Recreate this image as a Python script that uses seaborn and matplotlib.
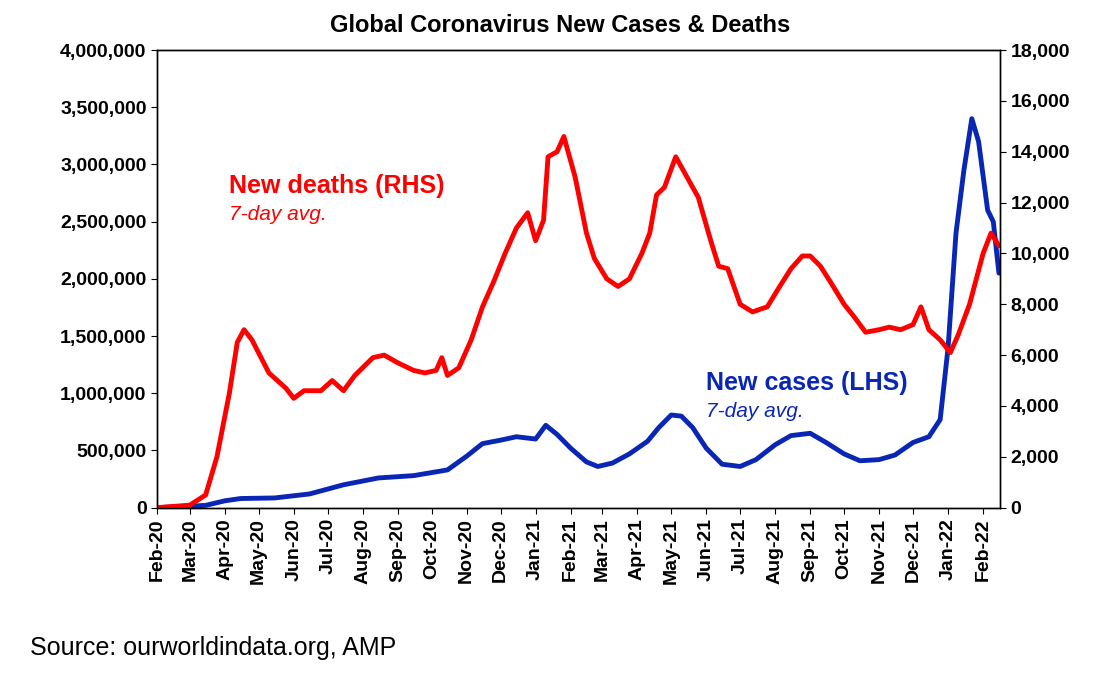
import matplotlib
matplotlib.use("Agg")
import matplotlib.pyplot as plt
import matplotlib.dates as mdates
import matplotlib.ticker as mtick
import seaborn as sns
import pandas as pd

sns.set_style("white")
plt.rcParams['font.family'] = ['Liberation Sans', 'DejaVu Sans']
plt.rcParams['text.color'] = 'black'
plt.rcParams['xtick.color'] = 'black'
plt.rcParams['ytick.color'] = 'black'

death_dates = ["2020-02-01","2020-03-01","2020-03-15","2020-03-25","2020-04-05","2020-04-12","2020-04-18","2020-04-25",
 "2020-05-10","2020-05-25","2020-06-01","2020-06-10","2020-06-25","2020-07-05","2020-07-15","2020-07-25","2020-08-10",
 "2020-08-20","2020-09-01","2020-09-15","2020-09-25","2020-10-05","2020-10-10","2020-10-15","2020-10-25","2020-11-05",
 "2020-11-15","2020-11-25","2020-12-05","2020-12-15","2020-12-25","2021-01-01","2021-01-08","2021-01-12","2021-01-20",
 "2021-01-26","2021-02-05","2021-02-15","2021-02-22","2021-03-05","2021-03-15","2021-03-25","2021-04-05","2021-04-12",
 "2021-04-18","2021-04-25","2021-05-05","2021-05-15","2021-05-25","2021-06-05","2021-06-12","2021-06-20","2021-07-01",
 "2021-07-12","2021-07-25","2021-08-05","2021-08-15","2021-08-25","2021-09-01","2021-09-10","2021-09-20","2021-10-01",
 "2021-10-10","2021-10-20","2021-11-01","2021-11-10","2021-11-20","2021-12-01","2021-12-08","2021-12-15","2021-12-25",
 "2022-01-03","2022-01-10","2022-01-20","2022-02-01","2022-02-08","2022-02-15"]
deaths = [0,100,500,2000,4500,6500,7000,6600,5300,4700,4300,4600,4600,5000,4600,5200,5900,6000,5700,5400,5300,5400,
 5900,5200,5500,6600,7900,8900,10000,11000,11600,10500,11300,13800,14000,14600,13000,10800,9800,9000,8700,9000,10000,
 10800,12300,12600,13800,13000,12200,10500,9500,9400,8000,7700,7900,8700,9400,9900,9900,9500,8800,8000,7500,6900,7000,
 7100,7000,7200,7900,7000,6600,6100,6800,8000,10000,10800,10300]

case_dates = ["2020-02-01","2020-03-15","2020-04-01","2020-04-15","2020-05-15","2020-06-15","2020-07-15","2020-08-15",
 "2020-09-15","2020-10-15","2020-11-01","2020-11-15","2020-12-01","2020-12-15","2021-01-01","2021-01-10","2021-01-20",
 "2021-02-01","2021-02-15","2021-02-25","2021-03-10","2021-03-25","2021-04-10","2021-04-20","2021-05-01","2021-05-10",
 "2021-05-20","2021-06-01","2021-06-15","2021-07-01","2021-07-15","2021-08-01","2021-08-15","2021-09-01","2021-09-15",
 "2021-10-01","2021-10-15","2021-11-01","2021-11-15","2021-12-01","2021-12-15","2021-12-25","2022-01-01","2022-01-08",
 "2022-01-15","2022-01-22","2022-01-28","2022-02-05","2022-02-10","2022-02-15"]
cases = [0,20e3,60e3,80e3,85e3,120e3,200e3,260e3,280e3,330e3,450e3,560e3,590e3,620e3,600e3,720e3,640e3,520e3,400e3,
 360e3,390e3,470e3,580e3,700e3,810e3,800e3,700e3,520e3,380e3,360e3,420e3,550e3,630e3,650e3,570e3,470e3,410e3,420e3,
 460e3,570e3,620e3,770e3,1.4e6,2.4e6,2.95e6,3.4e6,3.2e6,2.6e6,2.5e6,2.05e6]

dfd = pd.DataFrame({"date": pd.to_datetime(death_dates), "v": deaths})
dfc = pd.DataFrame({"date": pd.to_datetime(case_dates), "v": cases})

fig = plt.figure(figsize=(11.02, 6.76), dpi=100)
ax = fig.add_axes([0.1425, 0.249, 0.765, 0.677])
ax2 = ax.twinx()
sns.lineplot(data=dfc, x="date", y="v", ax=ax, color="#0a26b4", linewidth=3.5)
sns.lineplot(data=dfd, x="date", y="v", ax=ax2, color="#ff0000", linewidth=3.5)
ax.set_ylim(0, 4e6); ax2.set_ylim(0, 18000)
ax.set_xlim(pd.Timestamp("2020-02-01"), pd.Timestamp("2022-02-16"))
ax.yaxis.set_major_locator(mtick.MultipleLocator(500000))
ax2.yaxis.set_major_locator(mtick.MultipleLocator(2000))
fmt = mtick.FuncFormatter(lambda v, p: f"{int(v):,}")
ax.yaxis.set_major_formatter(fmt); ax2.yaxis.set_major_formatter(fmt)
ax.xaxis.set_major_locator(mdates.MonthLocator())
ax.xaxis.set_major_formatter(mdates.DateFormatter("%b-%y"))
for a in (ax, ax2):
    a.set_xlabel(""); a.set_ylabel("")
    for s in a.spines.values():
        s.set_color("black"); s.set_linewidth(1)
    a.tick_params(labelsize=14, colors="black")
    for t in a.get_yticklabels():
        t.set_fontweight("bold")
for t in ax.get_xticklabels():
    t.set_rotation(90); t.set_fontweight("bold")
ax.tick_params(axis="x", labelsize=14, length=4, direction="out", bottom=True)
ax.tick_params(axis="y", left=True, length=4)
ax2.tick_params(axis="y", right=True, length=4)
fig.text(0.508, 0.962, "Global Coronavirus New Cases & Deaths", ha="center", va="center", fontsize=17, fontweight="bold", color="black")
fig.text(0.208, 0.725, "New deaths (RHS)", color="#ff0000", fontsize=18, fontweight="bold", va="center")
fig.text(0.208, 0.683, "7-day avg.", color="#ff0000", fontsize=15, style="italic", va="center")
fig.text(0.641, 0.434, "New cases (LHS)", color="#0a26b4", fontsize=18, fontweight="bold", va="center")
fig.text(0.641, 0.392, "7-day avg.", color="#0a26b4", fontsize=15, style="italic", va="center")
fig.text(0.027, 0.042, "Source: ourworldindata.org, AMP", fontsize=18, va="center", color="black")
fig.savefig("out.png", dpi=100)
